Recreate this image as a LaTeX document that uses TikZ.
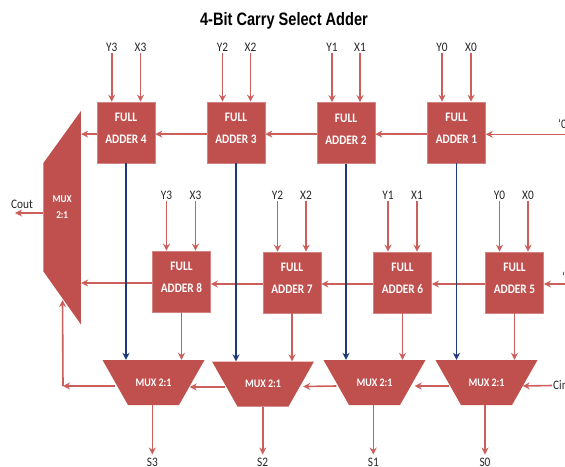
\documentclass[tikz,border=0pt]{standalone}
\usepackage{fontspec}
\setmainfont{Carlito}
\newfontfamily\titlefont{Liberation Sans}
\usetikzlibrary{arrows.meta,calc}
\definecolor{brick}{HTML}{C0504D}
\definecolor{wirered}{HTML}{CC5F5C}
\definecolor{navy}{HTML}{1F3A7A}
\newcommand{\nrw}[1]{\scalebox{0.87}[1]{#1}}
\newcommand{\falabel}[1]{\raisebox{-0.5pt}[0pt][0pt]{\begin{tabular}{@{}c@{}}\nrw{FULL}\\[9pt]\nrw{ADDER #1}\end{tabular}}}
\tikzset{
 fabox/.style={draw=brick!70!white,line width=0.6pt,fill=brick,text=white,minimum width=58pt,minimum height=61pt,inner sep=0pt,font=\bfseries\fontsize{13}{13}\selectfont},
 muxt/.style={inner sep=0pt,text=white,minimum width=102pt,minimum height=45pt,font=\bfseries\fontsize{11.5}{12}\selectfont,
   path picture={\fill[brick] (path picture bounding box.north west) -- (path picture bounding box.north east) -- ($(path picture bounding box.south east)+(-25.5,0)$) -- ($(path picture bounding box.south west)+(25.5,0)$) -- cycle;}},
 bigm/.style={inner sep=0pt,text=white,minimum width=37.5pt,minimum height=213.5pt,font=\bfseries\fontsize{10.5}{10.5}\selectfont,
   path picture={\fill[brick] (path picture bounding box.north east) -- (path picture bounding box.south east) -- ($(path picture bounding box.south west)+(0,-53)$) -- ($(path picture bounding box.north west)+(0,52)$) -- cycle;}},
 wire/.style={draw=wirered,line width=1.6pt,-{Stealth[length=7pt,width=7pt]}},
 bluewire/.style={draw=navy,line width=1.5pt,-{Stealth[length=7pt,width=7pt]}},
 lab/.style={inner sep=0pt,font=\fontsize{13}{13}\selectfont,text=black!85},
}
\begin{document}
\begin{tikzpicture}[x=1pt,y=-1pt]
\useasboundingbox (0,0) rectangle (565,466);
\clip (0,0) rectangle (565,466);
\fill[white] (0,0) rectangle (565,466);
\node[inner sep=0pt,font=\titlefont\bfseries\fontsize{18}{20}\selectfont] (title) at (284,21) {\scalebox{0.81}[1]{4-Bit Carry Select Adder}};
% adders
\node[fabox] (fa4) at (126,132.5) {\falabel{4}};
\node[fabox] (fa3) at (236,132.5) {\falabel{3}};
\node[fabox] (fa2) at (346,133) {\falabel{2}};
\node[fabox] (fa1) at (456.5,132.5) {\falabel{1}};
\node[fabox] (fa8) at (181.5,281.5) {\falabel{8}};
\node[fabox] (fa7) at (292,282.5) {\falabel{7}};
\node[fabox] (fa6) at (402.5,282.5) {\falabel{6}};
\node[fabox] (fa5) at (514.5,282.5) {\falabel{5}};
% muxes
\node[muxt] (m3) at (153.5,382.5) {\nrw{MUX 2:1}};
\node[muxt] (m2) at (263,384) {\nrw{MUX 2:1}};
\node[muxt] (m1) at (374.5,382.5) {\nrw{MUX 2:1}};
\node[muxt] (m0) at (486.5,382.5) {\nrw{MUX 2:1}};
\node[bigm] (bigmux) at (62.2,217.7) {\raisebox{6.5pt}[0pt][0pt]{\begin{tabular}{@{}c@{}}\nrw{MUX}\\[5pt]\nrw{2:1}\end{tabular}}};
% input labels
\foreach \n/\t/\xa in {y3t/Y3/111.7,x3t/X3/140.5,y2t/Y2/222.5,x2t/X2/250.5,y1t/Y1/332,x1t/X1/360,y0t/Y0/442,x0t/X0/471}{\node[lab] (\n) at (\xa,47.5) {\nrw{\t}};}
\foreach \n/\t/\xa in {y3b/Y3/166.5,x3b/X3/195.5,y2b/Y2/277.5,x2b/X2/306,y1b/Y1/388,x1b/X1/417,y0b/Y0/499.5,x0b/X0/528}{\node[lab] (\n) at (\xa,195.5) {\nrw{\t}};}
% sums
\foreach \n/\t/\xa in {s3/S3/152.3,s2/S2/262.7,s1/S1/373.3,s0/S0/485}{\node[lab,anchor=base,outer ysep=3pt] (\n) at (\xa,466) {\nrw{\t}};}
\node[lab] (cout) at (22,204.5) {\nrw{Cout}};
\node[lab,anchor=west] (cin) at (553,385.5) {\nrw{Cin}};
\node[lab,anchor=west] (c0) at (558,124) {\nrw{‘0}};
\node[lab,anchor=west] (c1) at (562,277) {\nrw{‘1}};
% inputs
\foreach \n/\a in {y3t/fa4,x3t/fa4,y2t/fa3,x2t/fa3,y1t/fa2,x1t/fa2,y0t/fa1,x0t/fa1,y3b/fa8,x3b/fa8,y2b/fa7,x2b/fa7,y1b/fa6,x1b/fa6,y0b/fa5,x0b/fa5}{\draw[wire] ([yshift=-1pt]\n.south) -- (\n.south |- \a.north);}
% carries
\draw[wire] ([yshift=-1.6pt]fa1.west) -- ([yshift=-1.1pt]fa2.east);
\draw[wire] ([yshift=-1.1pt]fa2.west) -- ([yshift=-1.6pt]fa3.east);
\draw[wire] ([yshift=-1.6pt]fa3.west) -- ([yshift=-1.6pt]fa4.east);
\draw[wire] ([yshift=-1.6pt]fa4.west) -- ([yshift=-1.6pt]fa4.west -| bigmux.east);
\draw[wire] ([yshift=-1.5pt]fa8.west) -- ([yshift=-1.5pt]fa8.west -| bigmux.east);
\draw[wire] ([yshift=-1.5pt]fa7.west) -- ([yshift=-2.5pt]fa8.east);
\draw[wire] ([yshift=-1.5pt]fa6.west) -- ([yshift=-1.5pt]fa7.east);
\draw[wire] ([yshift=-1.5pt]fa5.west) -- ([yshift=-1.5pt]fa6.east);
\coordinate (c0end) at (565,134.3);
\coordinate (c1end) at (565,284);
\draw[wire] (c0end) -- (fa1.east |- c0end);
\draw[wire] (c1end) -- (fa5.east |- c1end);
% select wires
\draw[bluewire] (fa4.south) -- (fa4.south |- m3.north);
\draw[bluewire] (fa3.south) -- (fa3.south |- m2.north);
\draw[bluewire] (fa2.south) -- (fa2.south |- m1.north);
\draw[bluewire] (fa1.south) -- (fa1.south |- m0.north);
% adder to mux
\draw[wire] (fa8.south) -- (fa8.south |- m3.north);
\draw[wire] (fa7.south) -- (fa7.south |- m2.north);
\draw[wire] (fa6.south) -- (fa6.south |- m1.north);
\draw[wire] (fa5.south) -- (fa5.south |- m0.north);
% mux outs
\draw[wire] (m3.south -| s3.north) -- (s3.north);
\draw[wire] (m2.south -| s2.north) -- (s2.north);
\draw[wire] (m1.south -| s1.north) -- (s1.north);
\draw[wire] (m0.south -| s0.north) -- (s0.north);
% mux chain
\coordinate (lp) at (63,386);
\coordinate (mi) at (62.5,300);
\draw[wire] ([xshift=-1pt]cin.west) -- ($(m0.east)+(-15,3.5)$);
\draw[wire] ($(m0.west)+(14,3.5)$) -- ($(m1.east)+(-11,3.5)$);
\draw[wire] ($(m1.west)+(13,3.5)$) -- ($(m2.east)+(-11,2.5)$);
\draw[wire] ($(m2.west)+(13,3)$) -- ($(m3.east)+(-15,4.5)$);
\draw[wire] ($(m3.west)+(13,3.5)$) -- (lp);
\draw[wire] (lp) -- (mi);
\coordinate (coutend) at (15,213);
\draw[wire] ([yshift=4.7pt]bigmux.west) -- (coutend);
\end{tikzpicture}
\end{document}
